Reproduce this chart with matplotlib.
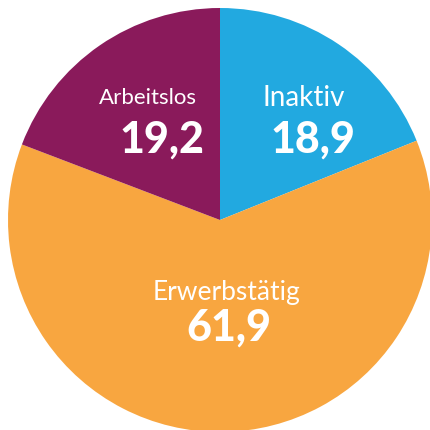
import matplotlib
matplotlib.use("Agg")
import matplotlib.pyplot as plt

labels = ["Inaktiv", "Erwerbstätig", "Arbeitslos"]
values = [18.9, 61.9, 19.2]
colors = ["#22A9E0", "#F8A640", "#8A1A5B"]

# label positions (data units, radius = 1)
name_xy = [(0.396, 0.538), (0.033, -0.377), (-0.340, 0.547)]
value_xy = [(0.439, 0.316), (0.042, -0.571), (-0.274, 0.316)]
name_size = [20, 19, 16]

plt.rcParams["font.family"] = ["Lato", "DejaVu Sans"]

fig = plt.figure(figsize=(4.3, 4.3), dpi=100)
ax = fig.add_axes([0, 0, 1, 1])
ax.pie(values, colors=colors, startangle=90, counterclock=False,
       radius=1, wedgeprops=dict(linewidth=0))

r = 212.0
ax.set_xlim(-220 / r, 210 / r)
ax.set_ylim(-210 / r, 220 / r)
ax.set_aspect("equal")
ax.axis("off")

for i in range(len(labels)):
    ax.text(*name_xy[i], labels[i], color="white", fontsize=name_size[i],
            ha="center", va="baseline")
    ax.text(*value_xy[i], f"{values[i]:.1f}".replace(".", ","), color="white",
            fontsize=31, fontweight="black", ha="center", va="baseline")

fig.savefig("out.png", dpi=100, facecolor="white")
